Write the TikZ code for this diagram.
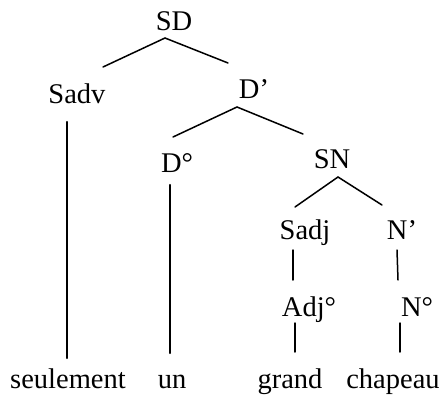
\documentclass[tikz,border=0pt]{standalone}
\usepackage{fontspec}
\setmainfont{Liberation Serif}
\begin{document}
\begin{tikzpicture}[x=1pt,y=-1pt,
  lbl/.style={anchor=base,inner sep=0pt,font=\fontsize{28.5}{32}\selectfont},
  br/.style={line width=1.5pt,line cap=round},
  vl/.style={line width=2.2pt,line cap=round}]
\useasboundingbox (0,0) rectangle (445,399);
% labels
\node[lbl] (SD) at (174,30) {SD};
\node[lbl] (Sadv) at (77,103) {Sadv};
\node[lbl] (Dp) at (254,98) {D’};
\node[lbl] (Do) at (177,172) {D°};
\node[lbl] (SN) at (332,168) {SN};
\node[lbl] (Sadj) at (305,239) {Sadj};
\node[lbl] (Np) at (402,239) {N’};
\node[lbl] (Adjo) at (309,316) {Adj°};
\node[lbl] (No) at (417,316) {N°};
\node[lbl] (w1) at (68,388) {seulement};
\node[lbl] (w2) at (172,388) {un};
\node[lbl] (w3) at (290,388) {grand};
\node[lbl] (w4) at (393,388) {chapeau};
% attachment points
\coordinate (SDb) at ([xshift=-9pt,yshift=-8pt]SD.base);
\coordinate (Sadvt) at ([xshift=26pt,yshift=36pt]Sadv.base);
\coordinate (Sadvb) at ([xshift=-10pt,yshift=-19pt]Sadv.base);
\coordinate (Dpt) at ([xshift=-26pt,yshift=35pt]Dp.base);
\coordinate (Dpb) at ([xshift=-17pt,yshift=-9pt]Dp.base);
\coordinate (Dot) at ([xshift=-4pt,yshift=35pt]Do.base);
\coordinate (Dob) at ([xshift=-7pt,yshift=-13pt]Do.base);
\coordinate (SNt) at ([xshift=-29pt,yshift=34pt]SN.base);
\coordinate (SNb) at ([xshift=6pt,yshift=-9pt]SN.base);
\coordinate (Sadjt) at ([xshift=-10pt,yshift=32pt]Sadj.base);
\coordinate (Sadjb) at ([xshift=-12pt,yshift=-11pt]Sadj.base);
\coordinate (Npt) at ([xshift=-20pt,yshift=34pt]Np.base);
\coordinate (Npb) at ([xshift=-5pt,yshift=-11pt]Np.base);
\coordinate (Adjot) at ([xshift=-16pt,yshift=36pt]Adjo.base);
\coordinate (Adjob) at ([xshift=-14pt,yshift=-7pt]Adjo.base);
\coordinate (Not) at ([xshift=-19pt,yshift=36pt]No.base);
\coordinate (Nob) at ([xshift=-17pt,yshift=-7pt]No.base);
\coordinate (w1t) at ([xshift=-1pt,yshift=30pt]w1.base);
\coordinate (w2t) at ([xshift=-2pt,yshift=35pt]w2.base);
\coordinate (w3t) at ([xshift=5pt,yshift=36pt]w3.base);
\coordinate (w4t) at ([xshift=7pt,yshift=36pt]w4.base);
% connectors
\draw[br] (SDb) -- (Sadvt);
\draw[br] (SDb) -- (Dpt);
\draw[br] (Dpb) -- (Dot);
\draw[br] (Dpb) -- (SNt);
\draw[vl] (Sadvb) -- (w1t);
\draw[vl] (Dob) -- (w2t);
\draw[br] (SNb) -- (Sadjt);
\draw[br] (SNb) -- (Npt);
\draw[br] (Sadjb) -- (Adjot);
\draw[br] (Npb) -- (Not);
\draw[br] (Adjob) -- (w3t);
\draw[br] (Nob) -- (w4t);
\end{tikzpicture}
\end{document}
